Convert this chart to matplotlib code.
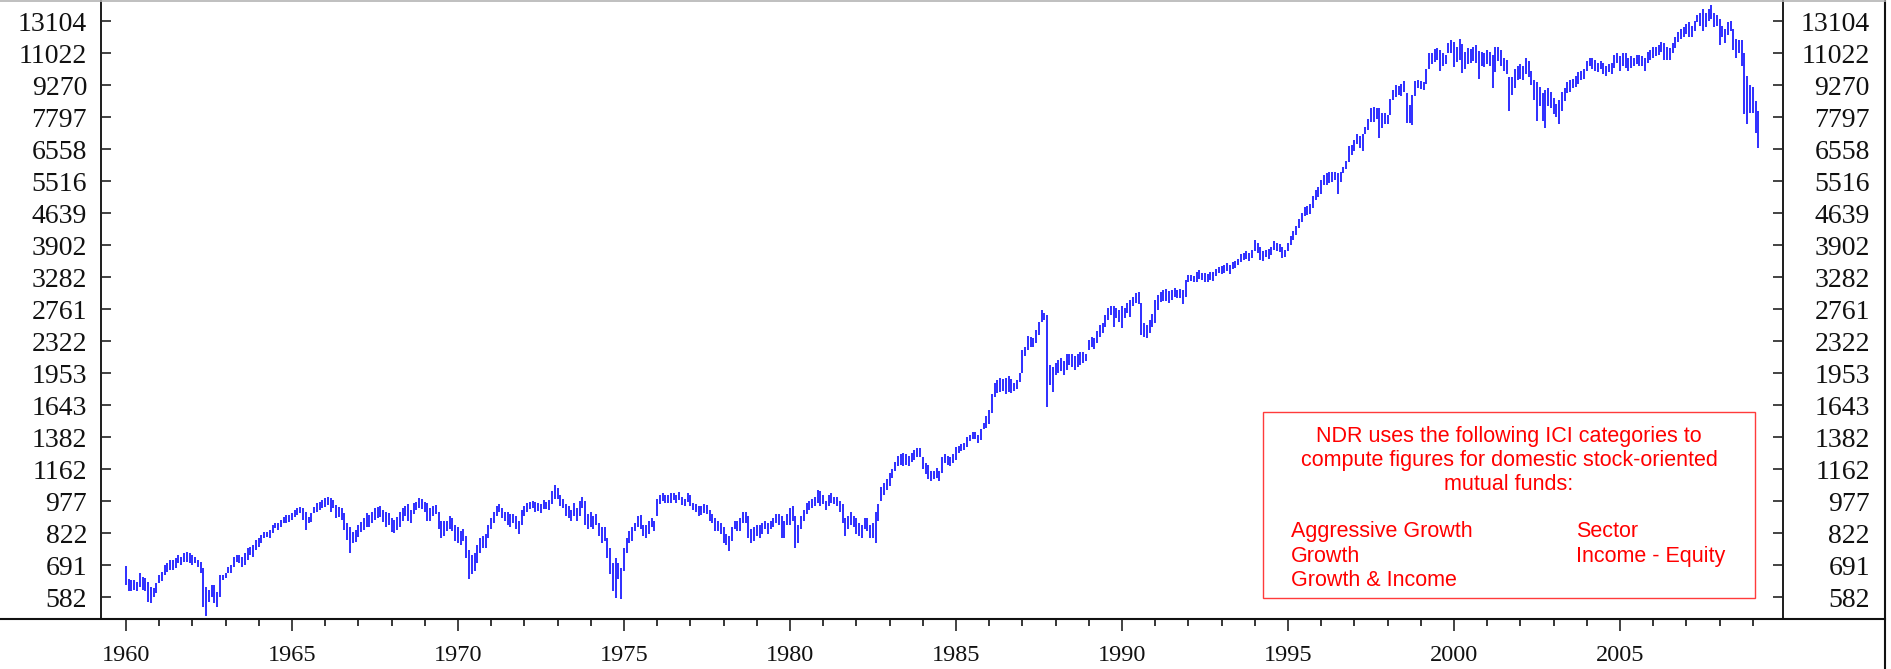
import matplotlib
matplotlib.use("Agg")
import numpy as np
import matplotlib.pyplot as plt
from matplotlib.lines import Line2D
from matplotlib.patches import Rectangle
from matplotlib.ticker import NullLocator, NullFormatter

# y axis tick values (log scale)
ytick_vals = [582, 691, 822, 977, 1162, 1382, 1643, 1953, 2322, 2761,
              3282, 3902, 4639, 5516, 6558, 7797, 9270, 11022, 13104]
xtick_major = list(range(1960, 2006, 5))
xtick_minor = list(range(1960, 2010))

# monthly highs / lows, Jan 1960 .. Mar 2009 (one row = one year)
hi_60s = [
    688, 640, 638, 638, 632, 664, 650, 644, 632, 616, 611, 627,
    656, 668, 692, 698, 711, 711, 717, 730, 724, 737, 741, 737,
    730, 724, 711, 704, 680, 616, 605, 621, 621, 599, 656, 656,
    662, 686, 692, 724, 730, 730, 724, 737, 757, 764, 771, 792,
    800, 814, 829, 829, 836, 859, 867, 867, 883, 899, 907, 907,
    915, 932, 940, 949, 940, 923, 899, 915, 949, 966, 975, 984,
    992, 1001, 992, 984, 958, 949, 940, 915, 867, 852, 829, 836,
    859, 875, 891, 915, 907, 923, 940, 949, 953, 932, 923, 915,
    891, 883, 899, 920, 940, 950, 960, 930, 965, 975, 995, 990,
    975, 965, 940, 950, 955, 920, 880, 880, 880, 900, 890, 860,
]
lo_60s = [
    621, 600, 600, 605, 600, 616, 605, 600, 567, 565, 583, 594,
    627, 633, 656, 668, 674, 674, 680, 698, 692, 704, 704, 698,
    692, 698, 686, 662, 552, 525, 567, 583, 562, 552, 583, 638,
    644, 662, 662, 686, 704, 698, 686, 692, 711, 730, 724, 750,
    764, 778, 800, 807, 800, 821, 844, 836, 852, 867, 867, 875,
    883, 899, 907, 915, 883, 836, 867, 875, 915, 923, 932, 940,
    949, 958, 923, 940, 891, 899, 883, 836, 792, 737, 778, 785,
    807, 829, 836, 852, 852, 867, 883, 891, 899, 875, 852, 859,
    829, 821, 836, 850, 880, 900, 880, 870, 910, 930, 940, 935,
    920, 880, 880, 900, 910, 840, 800, 810, 830, 840, 830, 790,
]
hi_70s = [
    850, 830, 840, 810, 750, 730, 740, 770, 800, 810, 820, 860,
    890, 920, 950, 960, 940, 920, 920, 910, 910, 900, 880, 930,
    950, 965, 975, 980, 975, 970, 960, 985, 975, 985, 1035, 1065,
    1050, 1010, 990, 960, 950, 930, 970, 940, 980, 1000, 980, 910,
    920, 900, 910, 870, 850, 850, 800, 760, 700, 720, 700, 680,
    760, 800, 830, 850, 870, 900, 905, 860, 860, 880, 890, 880,
    990, 1010, 1020, 1010, 1010, 1020, 1020, 1010, 1025, 1000, 990, 1020,
    1010, 970, 960, 950, 950, 960, 955, 930, 910, 890, 880, 870,
    850, 820, 810, 850, 880, 880, 890, 920, 920, 900, 840, 850,
    860, 860, 870, 880, 870, 880, 890, 910, 910, 900, 880, 910,
]
lo_70s = [
    780, 770, 790, 720, 640, 660, 670, 700, 740, 760, 760, 800,
    840, 870, 900, 920, 890, 880, 860, 850, 870, 840, 820, 860,
    900, 920, 935, 940, 920, 925, 915, 935, 935, 930, 960, 990,
    990, 950, 940, 900, 890, 880, 900, 880, 900, 940, 860, 840,
    850, 840, 860, 810, 780, 790, 720, 660, 600, 580, 640, 575,
    670, 740, 780, 790, 830, 850, 840, 810, 800, 820, 850, 830,
    900, 960, 980, 970, 965, 970, 985, 970, 985, 955, 950, 975,
    950, 930, 920, 900, 905, 915, 910, 880, 870, 830, 830, 820,
    780, 770, 745, 790, 840, 830, 830, 870, 870, 800, 780, 790,
    810, 800, 820, 840, 820, 840, 850, 870, 860, 800, 800, 860,
]
hi_80s = [
    940, 950, 900, 860, 900, 930, 970, 980, 990, 1000, 1040, 1030,
    1010, 980, 1010, 1020, 1000, 1000, 980, 960, 890, 900, 920, 900,
    890, 870, 860, 890, 890, 860, 870, 920, 960, 1057, 1076, 1100,
    1140, 1160, 1210, 1250, 1260, 1270, 1260, 1250, 1270, 1290, 1300, 1300,
    1240, 1200, 1190, 1150, 1150, 1170, 1150, 1240, 1260, 1250, 1240, 1260,
    1310, 1320, 1330, 1340, 1380, 1400, 1420, 1420, 1400, 1440, 1490, 1545,
    1600, 1740, 1850, 1880, 1900, 1890, 1900, 1920, 1890, 1850, 1880, 1950,
    2210, 2250, 2390, 2380, 2360, 2470, 2580, 2750, 2700, 2680, 2040, 2020,
    2060, 2100, 2120, 2080, 2170, 2170, 2160, 2140, 2170, 2190, 2190, 2170,
    2340, 2380, 2360, 2450, 2530, 2560, 2680, 2770, 2800, 2800, 2770, 2750,
]
lo_80s = [
    860, 880, 760, 780, 840, 880, 910, 930, 940, 950, 970, 950,
    960, 930, 950, 970, 960, 950, 920, 870, 810, 840, 860, 850,
    820, 810, 800, 840, 830, 800, 800, 780, 880, 980, 1010, 1040,
    1060, 1110, 1150, 1180, 1190, 1180, 1190, 1180, 1210, 1220, 1240, 1240,
    1160, 1130, 1100, 1090, 1100, 1110, 1090, 1140, 1200, 1190, 1180, 1200,
    1220, 1270, 1280, 1290, 1310, 1350, 1370, 1370, 1340, 1360, 1440, 1450,
    1480, 1570, 1720, 1750, 1760, 1770, 1740, 1760, 1750, 1770, 1790, 1860,
    1950, 2140, 2210, 2250, 2250, 2300, 2400, 2580, 2600, 1630, 1830, 1760,
    1935, 1950, 1970, 1935, 1990, 2040, 2020, 1990, 2020, 2040, 2060, 2080,
    2210, 2250, 2230, 2300, 2380, 2420, 2510, 2600, 2680, 2510, 2630, 2580,
]
hi_90s = [
    2800, 2770, 2850, 2900, 2950, 3010, 3030, 2850, 2560, 2530, 2600, 2690,
    2900, 2980, 3030, 3060, 3080, 3050, 3060, 3090, 3060, 3080, 3060, 3230,
    3320, 3320, 3300, 3380, 3410, 3350, 3360, 3340, 3370, 3380, 3420, 3460,
    3480, 3500, 3540, 3500, 3560, 3580, 3620, 3720, 3730, 3780, 3740, 3800,
    4000, 3950, 3870, 3780, 3800, 3820, 3860, 3980, 3950, 3920, 3870, 3800,
    3950, 4100, 4200, 4330, 4500, 4650, 4800, 4820, 4870, 5100, 5250, 5350,
    5550, 5700, 5750, 5780, 5800, 5780, 5750, 5800, 5950, 6150, 6650, 6700,
    6900, 7100, 7050, 7100, 7400, 7700, 8200, 8250, 8200, 8200, 7950, 7950,
    7900, 8600, 9000, 9250, 9200, 9300, 9450, 8900, 8300, 8800, 9450, 9550,
    9450, 9400, 10100, 11000, 11000, 11250, 11350, 11200, 11000, 10900, 11650, 11850,
]
lo_90s = [
    2490, 2630, 2700, 2650, 2800, 2850, 2830, 2400, 2380, 2360, 2420, 2510,
    2560, 2750, 2870, 2880, 2880, 2850, 2900, 2950, 2930, 2930, 2830, 2950,
    3200, 3220, 3190, 3200, 3240, 3230, 3200, 3190, 3230, 3220, 3300, 3350,
    3330, 3350, 3400, 3340, 3420, 3450, 3500, 3560, 3600, 3620, 3580, 3640,
    3780, 3730, 3600, 3580, 3650, 3620, 3700, 3800, 3780, 3750, 3640, 3650,
    3780, 3900, 4020, 4130, 4280, 4420, 4560, 4580, 4620, 4760, 4980, 5050,
    5150, 5400, 5400, 5450, 5500, 5550, 5150, 5500, 5750, 5900, 6100, 6350,
    6500, 6750, 6600, 6500, 7100, 7250, 7600, 7600, 7700, 6950, 7350, 7500,
    7500, 7900, 8550, 8700, 8800, 8750, 8950, 7540, 7550, 7450, 8750, 9100,
    9050, 9000, 9300, 10100, 10400, 10500, 10600, 10000, 10250, 10400, 11000, 11000,
]
hi_00s = [
    11700, 11400, 11900, 11600, 11100, 11300, 11250, 11400, 11500, 11150, 11100, 11000,
    11200, 11100, 10920, 11410, 11410, 11210, 10740, 10640, 9680, 9680, 10100, 10280,
    10370, 10280, 10740, 10550, 10010, 9510, 9420, 9180, 8870, 9030, 9100, 8950,
    8640, 8350, 8570, 8950, 9100, 9420, 9510, 9590, 9760, 9930, 10010, 10100,
    10550, 10740, 10740, 10640, 10460, 10550, 10460, 10280, 10370, 10460, 10920, 11020,
    10830, 11020, 11020, 10740, 10830, 10740, 10920, 10920, 10830, 10740, 11110, 11210,
    11410, 11410, 11510, 11700, 11610, 11410, 11310, 11610, 12020, 12330, 12550, 12660,
    12890, 13000, 12780, 13100, 13570, 13690, 13970, 13690, 13970, 14290, 13690, 13570,
    13220, 12780, 12550, 13000, 13100, 12550, 11910, 11800, 11800, 11020, 9760, 9260,
    9180, 8490, 8060,
]
lo_00s = [
    10200, 10500, 10600, 9900, 10100, 10400, 10450, 10550, 10450, 9600, 10280, 10200,
    10400, 10280, 9100, 9930, 10550, 10280, 10010, 9850, 8060, 8790, 9100, 9510,
    9590, 9510, 9850, 9680, 9260, 8570, 7650, 8280, 7650, 7330, 8280, 8200,
    7920, 7790, 7520, 8060, 8490, 8870, 8950, 9100, 9180, 9340, 9510, 9590,
    10010, 10280, 10100, 10010, 9930, 10100, 9850, 9760, 9930, 9850, 10190, 10460,
    10010, 10280, 10190, 10010, 10190, 10280, 10370, 10280, 10280, 10010, 10460, 10640,
    10740, 10830, 10920, 11110, 10640, 10640, 10640, 11020, 11310, 11700, 11910, 12020,
    12230, 12020, 12020, 12440, 13050, 12780, 12440, 12660, 13100, 13280, 12660, 12780,
    11510, 12020, 11610, 12120, 12440, 11210, 10740, 11020, 10280, 7920, 7520, 7990,
    7990, 7140, 6600,
]

box_lines = ["NDR uses the following ICI categories to",
             "compute figures for domestic stock-oriented",
             "mutual funds:"]
box_col1 = ["Aggressive Growth", "Growth", "Growth & Income"]
box_col2 = ["Sector", "Income - Equity"]


def main():
    hi = np.array(hi_60s + hi_70s + hi_80s + hi_90s + hi_00s, dtype=float)
    lo = np.array(lo_60s + lo_70s + lo_80s + lo_90s + lo_00s, dtype=float)
    t = 1960 + np.arange(len(hi)) / 12.0

    W, H = 1891, 669
    fig = plt.figure(figsize=(W / 100, H / 100), dpi=100)
    fig.patch.set_facecolor("white")
    ax = fig.add_axes([101 / W, 50 / H, (1783 - 101) / W, 619 / H])

    ax.vlines(t, lo, hi, colors="#0000ff", linewidth=1.15)

    serif = "Liberation Serif"
    ax.set_yscale("log")
    ax.set_ylim(516.8, 14680)
    ax.set_xlim(1959.25, 2009.91)
    ax.set_yticks(ytick_vals)
    ax.set_yticklabels([str(v) for v in ytick_vals], fontfamily=serif, fontsize=20)
    ax.yaxis.set_minor_locator(NullLocator())
    ax.yaxis.set_minor_formatter(NullFormatter())
    ax.set_xticks(xtick_major)
    ax.set_xticklabels([str(v) for v in xtick_major], fontfamily=serif, fontsize=17.5)
    ax.set_xticks(xtick_minor, minor=True)

    ax.tick_params(axis="y", which="major", direction="in", length=7,
                   width=1.1, pad=10, colors="#111111")
    ax.tick_params(axis="x", which="major", direction="out", length=8.6,
                   width=1.1, pad=10, colors="#111111")
    ax.tick_params(axis="x", which="minor", direction="out", length=5,
                   width=1.1)

    ax2 = ax.twinx()
    ax2.set_yscale("log")
    ax2.set_ylim(ax.get_ylim())
    ax2.set_yticks(ytick_vals)
    ax2.set_yticklabels([str(v) for v in ytick_vals], fontfamily=serif, fontsize=20)
    ax2.yaxis.set_minor_locator(NullLocator())
    ax2.yaxis.set_minor_formatter(NullFormatter())
    ax2.tick_params(axis="y", which="major", direction="in", length=7,
                    width=1.1, pad=62.6, colors="#111111")
    plt.setp(ax2.get_yticklabels(), ha="right")

    for a in (ax, ax2):
        a.spines["top"].set_visible(False)
        a.spines["bottom"].set_visible(False)
        a.spines["left"].set_linewidth(1.4)
        a.spines["right"].set_linewidth(1.4)
        a.spines["left"].set_color("#222222")
        a.spines["right"].set_color("#222222")

    # frame lines outside the axes
    xr = 1885 / W
    fig.add_artist(Line2D([0, xr], [50 / H, 50 / H], color="#111111", lw=1.5))
    fig.add_artist(Line2D([xr, xr], [0, 1], color="#111111", lw=1.5))
    fig.add_artist(Line2D([0, xr], [1 - 0.6 / H, 1 - 0.6 / H], color="#b4b4b4", lw=1.2))

    # annotation box (pixel layout converted to axes fractions)
    def axx(px):
        return (px - 101) / 1682

    def axy(py):
        return (619 - py) / 619

    ax.add_patch(Rectangle((axx(1263), axy(598)), axx(1755) - axx(1263),
                           axy(412) - axy(598), transform=ax.transAxes,
                           facecolor="white", edgecolor="#ff3b3b", lw=1.0,
                           zorder=5))
    sans = "Liberation Sans"
    red = "#ff0000"
    fs = 15.5
    for line, py in zip(box_lines, [442, 466, 490]):
        ax.text(axx(1509), axy(py), line, transform=ax.transAxes, ha="center",
                va="baseline", color=red, fontsize=fs, fontfamily=sans, zorder=6)
    for line, py in zip(box_col1, [537, 562, 586]):
        ax.text(axx(1291), axy(py), line, transform=ax.transAxes, ha="left",
                va="baseline", color=red, fontsize=fs, fontfamily=sans, zorder=6)
    for line, py in zip(box_col2, [537, 562]):
        ax.text(axx(1576), axy(py), line, transform=ax.transAxes, ha="left",
                va="baseline", color=red, fontsize=fs, fontfamily=sans, zorder=6)

    fig.savefig("out.png", dpi=100, facecolor="white")
    plt.close(fig)


if __name__ == "__main__":
    main()
